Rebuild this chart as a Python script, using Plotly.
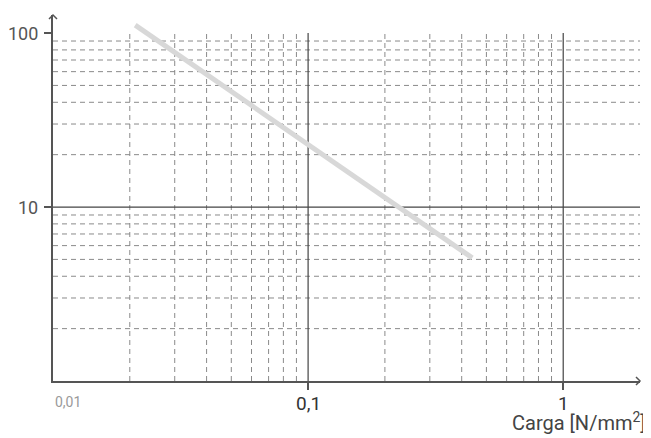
import math
import plotly.graph_objects as go

# ---- data ----
load_x = [0.021, 0.44]          # Carga [N/mm2]
curve_y = [111, 5.1]            # values on log axis
x_minor = [0.02, 0.03, 0.04, 0.05, 0.06, 0.07, 0.08, 0.09,
           0.2, 0.3, 0.4, 0.5, 0.6, 0.7, 0.8, 0.9]
x_major = [0.1, 1]
y_minor = [2, 3, 4, 5, 6, 7, 8, 9, 20, 30, 40, 50, 60, 70, 80, 90]
y_major = [10]
x_tick_vals = [0.1, 1]
x_tick_text = ["0,1", "1"]
y_tick_vals = [10, 100]
y_tick_text = ["10", "100"]

X_MIN, X_MAX = 0.01, 2.0
Y_MIN, Y_MAX = 1.0, 127.0
V_TOP = 100  # vertical grid lines stop here

GRID = "#8a8a8a"
AXIS = "#555555"
FONT = "Roboto"

fig = go.Figure()

def vlines(xs):
    X, Y = [], []
    for v in xs:
        X += [v, v, None]
        Y += [Y_MIN, V_TOP, None]
    return X, Y

def hlines(ys):
    X, Y = [], []
    for v in ys:
        X += [X_MIN, X_MAX, None]
        Y += [v, v, None]
    return X, Y

gx, gy = vlines(x_minor)
fig.add_trace(go.Scatter(x=gx, y=gy, mode="lines", hoverinfo="skip",
                         line=dict(color=GRID, width=1, dash="5px,4px")))
gx, gy = hlines(y_minor)
fig.add_trace(go.Scatter(x=gx, y=gy, mode="lines", hoverinfo="skip",
                         line=dict(color=GRID, width=1, dash="5px,4px")))
gx, gy = vlines(x_major)
fig.add_trace(go.Scatter(x=gx, y=gy, mode="lines", hoverinfo="skip",
                         line=dict(color="#444444", width=1.2)))
gx, gy = hlines(y_major)
fig.add_trace(go.Scatter(x=gx, y=gy, mode="lines", hoverinfo="skip",
                         line=dict(color="#444444", width=1.2)))

fig.add_trace(go.Scatter(x=load_x, y=curve_y, mode="lines",
                         line=dict(color="#d8d8d8", width=5)))

# arrows (paper coords)
pw, ph = 587.0, 366.0
dx, dy = 4 / pw, 4 / ph
fig.add_shape(type="path", xref="paper", yref="paper",
              path=f"M {-dx},{1-dy} L 0,1 L {dx},{1-dy}",
              line=dict(color=AXIS, width=1.5))
fig.add_shape(type="path", xref="paper", yref="paper",
              path=f"M {1-dx},{dy} L 1,0 L {1-dx},{-dy}",
              line=dict(color=AXIS, width=1.5))

# labels
for v, t in zip(y_tick_vals, y_tick_text):
    fig.add_annotation(x=0, xref="paper", y=math.log10(v), yref="y", text=t,
                       showarrow=False, xanchor="right", yanchor="middle",
                       xshift=-13, font=dict(family=FONT, size=18, color="#555555"))
for v, t in zip(x_tick_vals, x_tick_text):
    fig.add_annotation(x=math.log10(v), xref="x", y=0, yref="paper", text=t,
                       showarrow=False, xanchor="center", yanchor="middle",
                       yshift=-22, font=dict(family=FONT, size=19, color="#333333"))
fig.add_annotation(x=0, xref="paper", y=0, yref="paper", text="0,01",
                   showarrow=False, xanchor="left", yanchor="middle",
                   yshift=-21, font=dict(family=FONT, size=14, color="#9a9a9a"))
fig.add_annotation(x=1, xref="paper", y=0, yref="paper", text="Carga [N/mm<sup>2</sup>]",
                   showarrow=False, xanchor="right", yanchor="bottom",
                   xshift=8, yshift=-56, font=dict(family=FONT, size=20, color="#444444"))

# page body has an 8px margin: size the figure so the plot lands where the reference has it
fig.update_layout(
    width=643, height=430,
    margin=dict(l=45, r=11, t=7, b=57),
    plot_bgcolor="white", paper_bgcolor="white",
    showlegend=False,
)
fig.update_xaxes(type="log", range=[math.log10(X_MIN), math.log10(X_MAX)],
                 showgrid=False, zeroline=False, showline=True,
                 linecolor=AXIS, linewidth=1.5,
                 tickvals=x_tick_vals, ticks="outside", ticklen=7,
                 tickcolor=AXIS, tickwidth=1.5, showticklabels=False)
fig.update_yaxes(type="log", range=[math.log10(Y_MIN), math.log10(Y_MAX)],
                 showgrid=False, zeroline=False, showline=True,
                 linecolor=AXIS, linewidth=1.5,
                 tickvals=y_tick_vals, ticks="outside", ticklen=7,
                 tickcolor=AXIS, tickwidth=1.5, showticklabels=False)

fig.write_html("out.html")
